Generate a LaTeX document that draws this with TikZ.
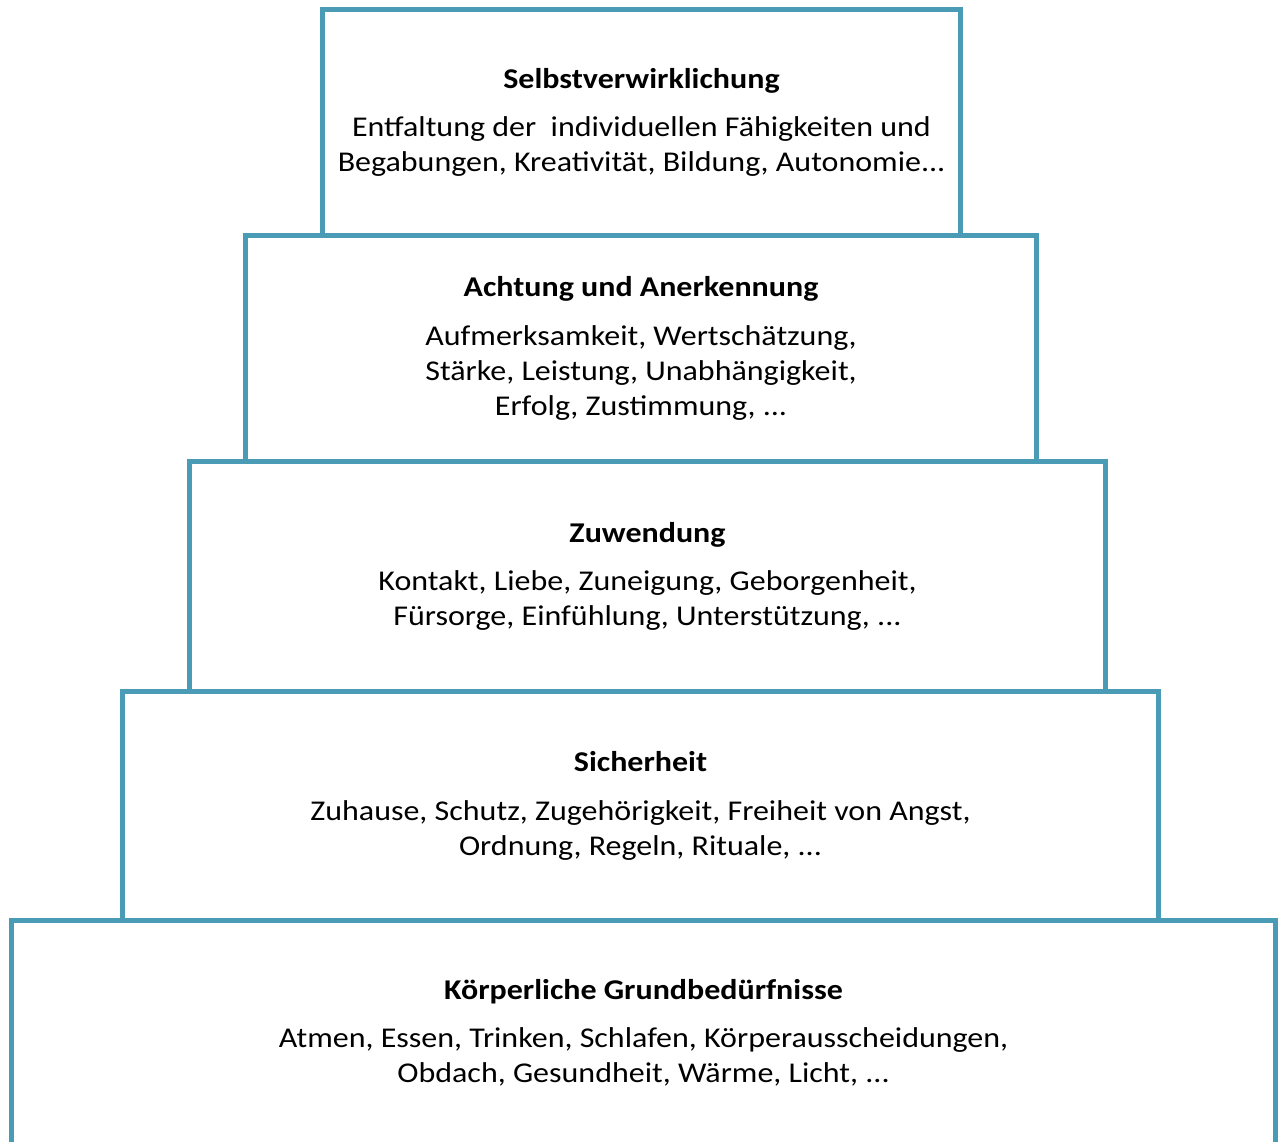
\documentclass[tikz,border=0pt]{standalone}
\usepackage{fontspec}
\setmainfont{Carlito}[FakeStretch=1.117]
\usepackage{tikz}
\definecolor{stufenblau}{HTML}{4A9CB6}
\newcommand{\titel}[1]{{\bfseries #1}\\[0.27cm]}

\begin{document}
\begin{tikzpicture}[
  stufe/.style={draw=stufenblau, line width=0.1cm, rectangle, align=center,
    font=\fontsize{16.3pt}{19.9pt}\selectfont, text=black}]
  \useasboundingbox (0, 0) rectangle (25.6, -22.82);
  \clip (0, 0) rectangle (25.6, -22.82);

  \node [stufe, minimum width=25.28cm, minimum height=4.5cm] (grund) at (12.87, -20.66)
    {\titel{Körperliche Grundbedürfnisse}Atmen, Essen, Trinken, Schlafen, Körperausscheidungen,\\Obdach, Gesundheit, Wärme, Licht, ...};
  \node [stufe, minimum width=20.72cm, minimum height=4.58cm] (sicher) at (12.81, -16.12)
    {\titel{Sicherheit}Zuhause, Schutz, Zugehörigkeit, Freiheit von Angst,\\Ordnung, Regeln, Rituale, ...};
  \node [stufe, minimum width=18.32cm, minimum height=4.6cm] (zuwend) at (12.95, -11.53)
    {\titel{Zuwendung}Kontakt, Liebe, Zuneigung, Geborgenheit,\\Fürsorge, Einfühlung, Unterstützung, ...};
  \node [stufe, minimum width=15.82cm, minimum height=4.52cm] (achtung) at (12.82, -6.97)
    {\titel{Achtung und Anerkennung}Aufmerksamkeit, Wertschätzung,\\Stärke, Leistung, Unabhängigkeit,\\Erfolg, Zustimmung, ...};
  \node [stufe, minimum width=12.76cm, minimum height=4.52cm] (selbst) at (12.83, -2.45)
    {\titel{Selbstverwirklichung}Entfaltung der\ \ individuellen Fähigkeiten und\\Begabungen, Kreativität, Bildung, Autonomie...};

\end{tikzpicture}
\end{document}
